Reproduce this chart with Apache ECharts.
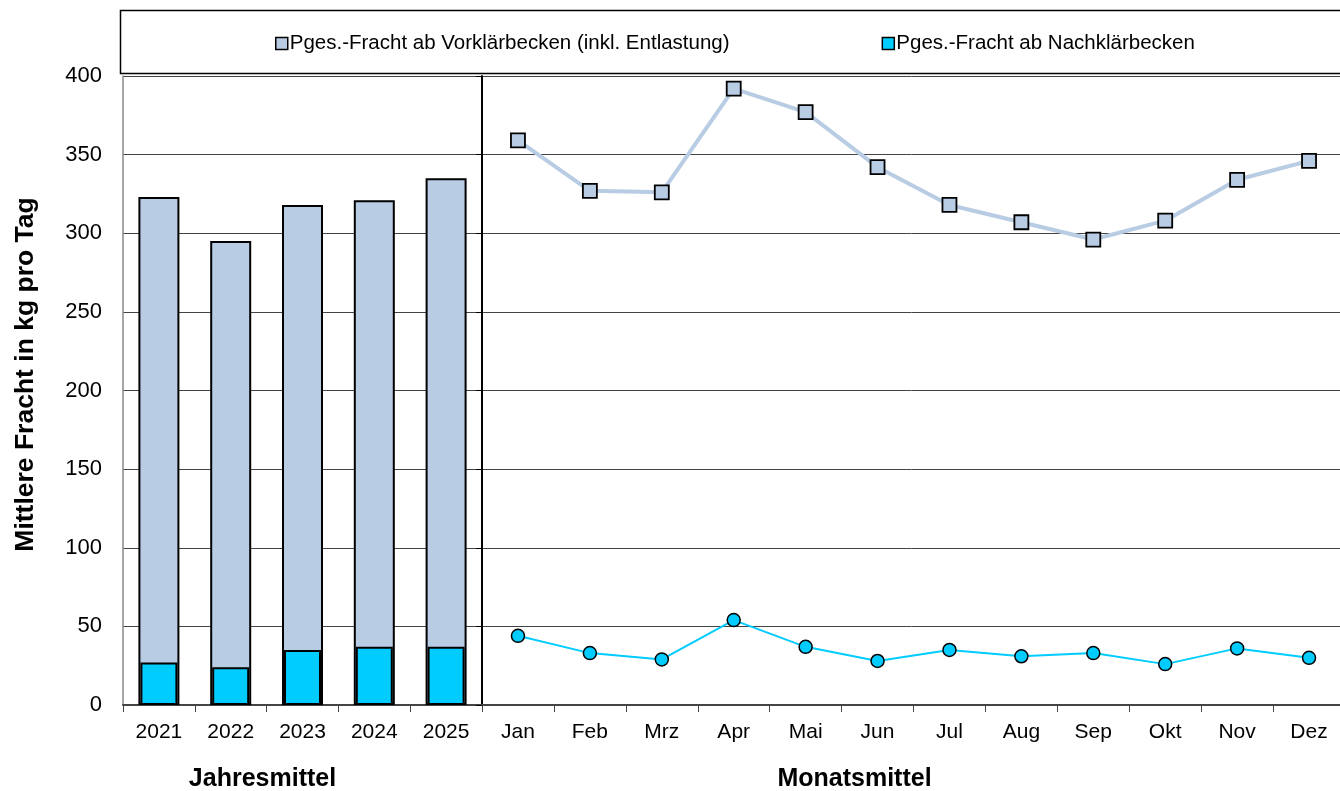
<!DOCTYPE html>
<html>
<head>
<meta charset="utf-8">
<script src="https://cdn.jsdelivr.net/npm/echarts@6/dist/echarts.min.js"></script>
<style>
  html, body { margin: 0; padding: 0; background: #fff; }
  #chart { width: 1340px; height: 791px; }
</style>
</head>
<body>
<div id="chart"></div>
<script>
// Jahresmittel
const years = ['2021', '2022', '2023', '2024', '2025']
const yearVorklaer = [323, 295, 318, 321, 335]
const yearNachklaer = [27, 24, 35, 37, 37]

// Monatsmittel
const months = ['Jan', 'Feb', 'Mrz', 'Apr', 'Mai', 'Jun', 'Jul', 'Aug', 'Sep', 'Okt', 'Nov', 'Dez']
const monthVorklaer = [359, 327, 326, 392, 377, 342, 318, 307, 296, 308, 334, 346]
const monthNachklaer = [44, 33, 29, 54, 37, 28, 35, 31, 33, 26, 36, 30]

const nameVor = 'Pges.-Fracht ab Vorklärbecken (inkl. Entlastung)'
const nameNach = 'Pges.-Fracht ab Nachklärbecken'

const colVor = '#b8cce4'
const colNach = '#00ccff'
const font = 'Liberation Sans, Arial, sans-serif'

const chart = echarts.init(document.getElementById('chart'))

const yAxisBase = {
    type: 'value',
    min: 0,
    max: 400,
    interval: 50,
    splitLine: {show: true, lineStyle: {color: '#444', width: 1}}
}

const option = {
    animation: false,
    textStyle: {fontFamily: font},
    graphic: [
        {
            type: 'rect',
            shape: {x: 120.5, y: 10.5, width: 1230, height: 63},
            style: {fill: 'none', stroke: '#000', lineWidth: 1.5},
            z: 0
        }
    ],
    legend: {
        left: 270,
        top: 28,
        itemGap: 152,
        itemWidth: 12,
        itemHeight: 12,
        icon: 'rect',
        textStyle: {fontSize: 20.5, color: '#000', fontFamily: font, padding: [0, 0, 0, -3]},
        itemStyle: {borderColor: '#000', borderWidth: 1.5},
        data: [nameVor, nameNach]
    },
    grid: [
        {left: 123, top: 76, width: 359, bottom: 86, outerBoundsMode: 'none', containLabel: false},
        {left: 482, top: 76, right: -5, bottom: 86, outerBoundsMode: 'none', containLabel: false}
    ],
    xAxis: [
        {
            type: 'category',
            gridIndex: 0,
            data: years,
            axisLine: {lineStyle: {color: '#444', width: 2}},
            axisTick: {show: true, length: 7, lineStyle: {color: '#444'}},
            axisLabel: {fontSize: 21, color: '#000', margin: 17},
            name: 'Jahresmittel',
            nameLocation: 'middle',
            nameGap: 62,
            nameTextStyle: {fontSize: 25, fontWeight: 'bold', color: '#000', padding: [0, 80, 0, 0]}
        },
        {
            type: 'category',
            gridIndex: 0,
            data: years,
            show: false
        },
        {
            type: 'category',
            gridIndex: 1,
            data: months,
            axisLine: {lineStyle: {color: '#444', width: 2}},
            axisTick: {show: true, length: 7, lineStyle: {color: '#444'}},
            axisLabel: {fontSize: 21, color: '#000', margin: 17},
            name: 'Monatsmittel',
            nameLocation: 'middle',
            nameGap: 62,
            nameTextStyle: {fontSize: 25, fontWeight: 'bold', color: '#000', padding: [0, 118, 0, 0]}
        }
    ],
    yAxis: [
        Object.assign({}, yAxisBase, {
            gridIndex: 0,
            axisLine: {show: true, lineStyle: {color: '#888', width: 1.5}},
            axisTick: {show: false},
            axisLabel: {fontSize: 22, color: '#000', margin: 21},
            name: 'Mittlere Fracht in kg pro Tag',
            nameLocation: 'middle',
            nameGap: 84,
            nameTextStyle: {fontSize: 26.5, fontWeight: 'bold', color: '#000', padding: [0, 0, 0, 32]}
        }),
        Object.assign({}, yAxisBase, {
            gridIndex: 1,
            axisLine: {show: true, lineStyle: {color: '#000', width: 2}},
            axisTick: {show: true, length: 6, lineStyle: {color: '#000'}},
            axisLabel: {show: false}
        })
    ],
    series: [
        {
            name: nameVor,
            type: 'bar',
            xAxisIndex: 0,
            yAxisIndex: 0,
            barWidth: 41,
            data: yearVorklaer,
            itemStyle: {color: colVor, borderColor: '#000', borderWidth: 2},
            z: 2
        },
        {
            name: nameNach,
            type: 'bar',
            xAxisIndex: 1,
            yAxisIndex: 0,
            barWidth: 37,
            data: yearNachklaer,
            itemStyle: {color: colNach, borderColor: '#000', borderWidth: 2},
            z: 3
        },
        {
            name: nameVor,
            type: 'line',
            xAxisIndex: 2,
            yAxisIndex: 1,
            data: monthVorklaer,
            symbol: 'rect',
            symbolSize: 14,
            lineStyle: {color: colVor, width: 4},
            itemStyle: {color: colVor, borderColor: '#000', borderWidth: 1.8}
        },
        {
            name: nameNach,
            type: 'line',
            xAxisIndex: 2,
            yAxisIndex: 1,
            data: monthNachklaer,
            symbol: 'circle',
            symbolSize: 13,
            lineStyle: {color: colNach, width: 2},
            itemStyle: {color: colNach, borderColor: '#000', borderWidth: 1.5}
        }
    ]
}

chart.setOption(option)
</script>
</body>
</html>
